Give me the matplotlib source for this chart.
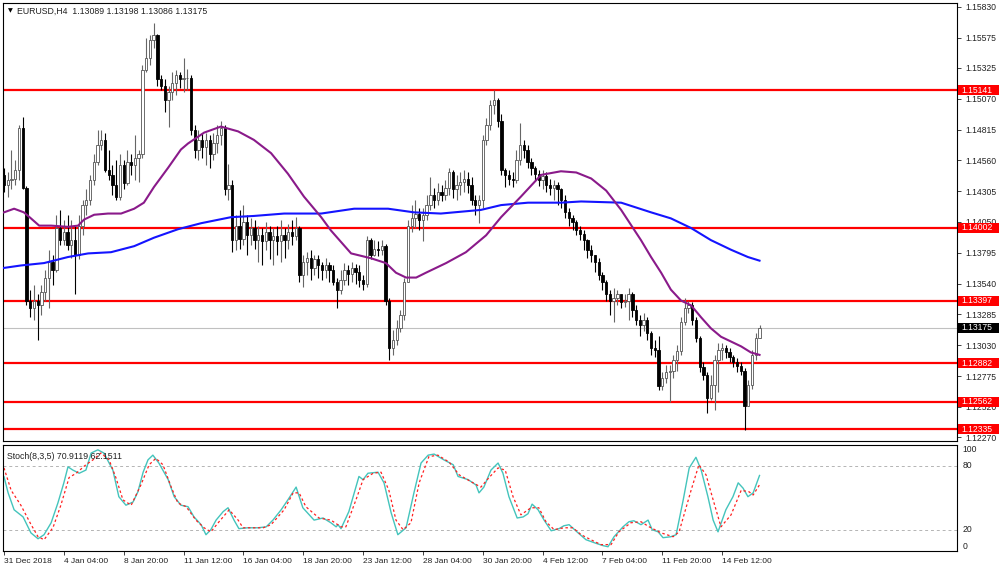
import matplotlib
matplotlib.use("Agg")
import matplotlib.pyplot as plt
from matplotlib.patches import Rectangle
from matplotlib.transforms import blended_transform_factory

plt.rcParams['font.family'] = ['Liberation Sans', 'DejaVu Sans']

# EURUSD H4 candles (bar 0 = 31 Dec 2018)
first_open = 1.1444
closes = [
    1.1436, 1.1440, 1.1441, 1.1448, 1.1483, 1.1433, 1.1340, 1.1334, 1.1340, 1.1336,
    1.1347, 1.1359, 1.1372, 1.1365, 1.1400, 1.1390, 1.1397, 1.1386, 1.1390, 1.1378,
    1.1402, 1.1419, 1.1423, 1.1440, 1.1455, 1.1469, 1.1473, 1.1448, 1.1444, 1.1436,
    1.1426, 1.1452, 1.1437, 1.1455, 1.1452, 1.1458, 1.1461, 1.1531, 1.1541, 1.1556,
    1.1560, 1.1523, 1.1518, 1.1506, 1.1513, 1.1520, 1.1527, 1.1523, 1.1524, 1.1524,
    1.1481, 1.1465, 1.1473, 1.1467, 1.1473, 1.1461, 1.1470, 1.1477, 1.1483, 1.1432,
    1.1436, 1.1390, 1.1402, 1.1391, 1.1405, 1.1394, 1.1400, 1.1390, 1.1394, 1.1389,
    1.1397, 1.1390, 1.1393, 1.1389, 1.1394, 1.1390, 1.1397, 1.1393, 1.1400, 1.1361,
    1.1372, 1.1375, 1.1367, 1.1374, 1.1369, 1.1365, 1.1369, 1.1365, 1.1355, 1.1349,
    1.1357, 1.1365, 1.1362, 1.1367, 1.1364, 1.1357, 1.1354, 1.1390, 1.1378, 1.1383,
    1.1382, 1.1385, 1.1340, 1.1301, 1.1307, 1.1317, 1.1328, 1.1355, 1.1402, 1.1408,
    1.1412, 1.1407, 1.1411, 1.1419, 1.1427, 1.1423, 1.1430, 1.1427, 1.1433, 1.1446,
    1.1432, 1.1436, 1.1438, 1.1441, 1.1436, 1.1423, 1.1419, 1.1423, 1.1473, 1.1485,
    1.1502, 1.1506, 1.1489, 1.1448, 1.1444, 1.1441, 1.1440, 1.1456, 1.1469, 1.1465,
    1.1455, 1.1450, 1.1445, 1.1440, 1.1443, 1.1436, 1.1433, 1.1436, 1.1432, 1.1423,
    1.1413, 1.1408, 1.1405, 1.1398, 1.1395, 1.1390, 1.1382, 1.1378, 1.1372, 1.1361,
    1.1355, 1.1345, 1.1340, 1.1342, 1.1345, 1.1339, 1.1340, 1.1345, 1.1332, 1.1324,
    1.1320, 1.1324, 1.1313, 1.1301, 1.1299, 1.1269, 1.1276, 1.1281, 1.1282, 1.1291,
    1.1298, 1.1322, 1.1334, 1.1336, 1.1324, 1.1309, 1.1285, 1.1278, 1.1259, 1.1270,
    1.1291, 1.1299, 1.1301, 1.1297, 1.1293, 1.1289, 1.1286, 1.1282, 1.1253, 1.1270,
    1.1295, 1.13089, 1.13175,
]
highs = [
    1.1450, 1.1446, 1.1465, 1.1456, 1.1485, 1.1492, 1.1435, 1.1349, 1.1353, 1.1345,
    1.1353, 1.1365, 1.1382, 1.1378, 1.1411, 1.1415, 1.1407, 1.1411, 1.1407, 1.1402,
    1.1411, 1.1423, 1.1432, 1.1444, 1.1461, 1.1481, 1.1481, 1.1479, 1.1465, 1.1452,
    1.1456, 1.1461, 1.1456, 1.1465, 1.1461, 1.1477, 1.1465, 1.1535, 1.1557, 1.1560,
    1.1570, 1.1561, 1.1527, 1.1523, 1.1518, 1.1529, 1.1531, 1.1529, 1.1541, 1.1532,
    1.1527, 1.1485, 1.1481, 1.1479, 1.1479, 1.1477, 1.1479, 1.1485, 1.1489, 1.1485,
    1.1453, 1.1440, 1.1411, 1.1415, 1.1419, 1.1411, 1.1408, 1.1407, 1.1402, 1.1400,
    1.1405, 1.1402, 1.1400, 1.1402, 1.1407, 1.1400, 1.1403, 1.1407, 1.1409, 1.1402,
    1.1378, 1.1380, 1.1382, 1.1378, 1.1378, 1.1372, 1.1375, 1.1372, 1.1369, 1.1359,
    1.1365, 1.1371, 1.1369, 1.1372, 1.1370, 1.1369, 1.1361, 1.1393, 1.1392, 1.1390,
    1.1389, 1.1390, 1.1387, 1.1342, 1.1316, 1.1324, 1.1332, 1.1359, 1.1407, 1.1419,
    1.1423, 1.1417, 1.1417, 1.1427, 1.1442, 1.1433, 1.1437, 1.1436, 1.1440, 1.1450,
    1.1448, 1.1444, 1.1446, 1.1448, 1.1446, 1.1442, 1.1427, 1.1427, 1.1477, 1.1491,
    1.1506, 1.1514, 1.1508, 1.1494, 1.1450, 1.1448, 1.1446, 1.1465, 1.1487, 1.1473,
    1.1469, 1.1458, 1.1451, 1.1448, 1.1448, 1.1446, 1.1441, 1.1440, 1.1438, 1.1433,
    1.1427, 1.1417, 1.1411, 1.1407, 1.1402, 1.1398, 1.1391, 1.1386, 1.1378, 1.1375,
    1.1364, 1.1357, 1.1349, 1.1350, 1.1349, 1.1344, 1.1345, 1.1350, 1.1347, 1.1336,
    1.1328, 1.1330, 1.1326, 1.1315, 1.1307, 1.1311, 1.1281, 1.1287, 1.1287, 1.1295,
    1.1303, 1.1326, 1.1342, 1.1340, 1.1339, 1.1326, 1.1311, 1.1289, 1.1281, 1.1278,
    1.1295, 1.1305, 1.1305, 1.1303, 1.1301, 1.1295, 1.1292, 1.1289, 1.1284, 1.1274,
    1.1299, 1.1313, 1.13198,
]
lows = [
    1.1430, 1.1426, 1.1432, 1.1436, 1.1440, 1.1432, 1.1336, 1.1326, 1.1324, 1.1307,
    1.1328, 1.1340, 1.1334, 1.1353, 1.1364, 1.1386, 1.1386, 1.1382, 1.1375, 1.1345,
    1.1374, 1.1394, 1.1411, 1.1419, 1.1436, 1.1452, 1.1465, 1.1446, 1.1440, 1.1427,
    1.1423, 1.1423, 1.1432, 1.1436, 1.1444, 1.1440, 1.1438, 1.1458, 1.1529, 1.1535,
    1.1549, 1.1518, 1.1514, 1.1496, 1.1484, 1.1506, 1.1510, 1.1516, 1.1513, 1.1514,
    1.1477, 1.1458, 1.1456, 1.1458, 1.1452, 1.1450, 1.1456, 1.1462, 1.1469, 1.1427,
    1.1423, 1.1380, 1.1382, 1.1383, 1.1386, 1.1378, 1.1386, 1.1383, 1.1372, 1.1369,
    1.1382, 1.1374, 1.1369, 1.1378, 1.1372, 1.1375, 1.1383, 1.1386, 1.1390, 1.1355,
    1.1351, 1.1361, 1.1357, 1.1361, 1.1359, 1.1357, 1.1359, 1.1355, 1.1353, 1.1334,
    1.1345, 1.1353, 1.1353, 1.1355, 1.1354, 1.1351, 1.1349, 1.1351, 1.1374, 1.1377,
    1.1377, 1.1378, 1.1336, 1.1291, 1.1295, 1.1303, 1.1314, 1.1324, 1.1355, 1.1397,
    1.1400, 1.1398, 1.1389, 1.1407, 1.1415, 1.1417, 1.1419, 1.1422, 1.1423, 1.1427,
    1.1425, 1.1423, 1.1427, 1.1430, 1.1429, 1.1419, 1.1411, 1.1404, 1.1417, 1.1469,
    1.1481, 1.1494, 1.1484, 1.1444, 1.1434, 1.1436, 1.1434, 1.1437, 1.1452, 1.1458,
    1.1450, 1.1444, 1.1440, 1.1435, 1.1432, 1.1430, 1.1427, 1.1423, 1.1419, 1.1417,
    1.1408, 1.1402, 1.1398, 1.1394, 1.1390, 1.1382, 1.1375, 1.1372, 1.1364, 1.1357,
    1.1349, 1.1340, 1.1328, 1.1322, 1.1336, 1.1334, 1.1335, 1.1324, 1.1326, 1.1320,
    1.1311, 1.1315, 1.1307, 1.1295, 1.1293, 1.1266, 1.1266, 1.1272, 1.1256, 1.1276,
    1.1282, 1.1295, 1.1320, 1.1330, 1.1320, 1.1306, 1.1281, 1.1274, 1.1247, 1.1258,
    1.1249, 1.1264, 1.1291, 1.1292, 1.1289, 1.1285, 1.1281, 1.1278, 1.1233, 1.1253,
    1.1267, 1.1291, 1.13086,
]

# moving averages (bar index, price)
ma_purple_x = [0, 2.7, 5.3, 7.2, 9.4, 12.6, 17.1, 19.8, 21.4, 24.1, 27.8, 31.3, 34.8, 37.4, 40.1,
               43.9, 47.3, 49.2, 53.5, 58, 62.6, 66.8, 71.4, 75.9, 80.2, 84.8, 87.4, 92.8, 98.1,
               102.1, 104.8, 107.5, 110.2, 112.8, 118.2, 123.5, 128.9, 132.9, 138.2, 143.6, 148.9,
               153, 157, 161, 165, 170.3, 173, 175.7, 178.3, 181, 183.7, 186.4, 189, 191.7, 197.1,
               199.7, 202]
ma_purple_y = [1.1413, 1.1416, 1.1413, 1.1408, 1.1402, 1.1402, 1.1401, 1.1402, 1.1407, 1.1411,
               1.1412, 1.1412, 1.1416, 1.1421, 1.1434, 1.1450, 1.1465, 1.1470, 1.1479, 1.1484,
               1.1480, 1.1473, 1.1462, 1.1445, 1.1426, 1.1409, 1.1398, 1.1379, 1.1375, 1.1371,
               1.1363, 1.1359, 1.1359, 1.1363, 1.1371, 1.1380, 1.1394, 1.1409, 1.1426, 1.1444,
               1.1447, 1.1446, 1.1441, 1.1431, 1.1415, 1.1390, 1.1376, 1.1363, 1.1349, 1.1340,
               1.1336, 1.1326, 1.1317, 1.1310, 1.1302, 1.1297, 1.1295]
ma_blue_x = [0, 4.5, 10.7, 17.1, 22.5, 28.6, 34.8, 40.1, 46.5, 52.7, 60.7, 66.8, 74.9, 84.8, 93.6,
             102.7, 109.6, 116.8, 127.5, 132.9, 140.1, 148.9, 154.3, 165, 173, 178.3, 183.7, 189,
             194.4, 198.9, 202]
ma_blue_y = [1.1367, 1.1369, 1.1371, 1.1376, 1.1379, 1.1380, 1.1385, 1.1392, 1.1399, 1.1404,
             1.1409, 1.1410, 1.1412, 1.1412, 1.1416, 1.1416, 1.1413, 1.1412, 1.1415, 1.1419,
             1.1421, 1.1421, 1.1422, 1.1421, 1.1413, 1.1408, 1.1400, 1.1390, 1.1382, 1.1376, 1.1373]

levels = [1.15141, 1.14002, 1.13397, 1.12882, 1.12562, 1.12335]
last_price = 1.13175
price_ticks = [1.15830, 1.15575, 1.15325, 1.15070, 1.14815, 1.14560, 1.14305, 1.14050,
               1.13795, 1.13540, 1.13285, 1.13030, 1.12775, 1.12520, 1.12270]

# stochastic (8,3,5)
stoch_main_x = [0, 1.1, 2.7, 5.1, 7.2, 9.1, 10.7, 12.6, 14.4, 16, 17.1, 18.4, 20.1, 21.9, 23.3, 25.1,
                26.7, 29.1, 30.7, 32.6, 34.5, 35.8, 37.2, 38.5, 39.8, 41.4, 43.9, 45.5, 47.3, 49.2,
                50.8, 52.7, 54, 55.3, 56.7, 58.6, 59.9, 61.5, 62.8, 65.2, 67.9, 70.1, 71.9, 74.1,
                75.9, 78.1, 79.9, 82.9, 85.3, 87.4, 88.8, 89.3, 90.1, 92.2, 94.9, 96, 97.3, 100,
                101.6, 103.5, 105.3, 107.5, 109.6, 111.5, 113.4, 115, 117.6, 120.1, 121.4, 124.1,
                126.2, 127, 128.3, 130.2, 132.1, 133.4, 135, 137.2, 138.8, 140.1, 141.2, 142.8,
                144.4, 146.3, 148.4, 149.7, 151.1, 153.5, 155.6, 157.8, 160.2, 161.5, 163.1, 165.5,
                167.1, 168.4, 170.3, 172.2, 173.3, 174.9, 176.2, 178.3, 179.7, 181.6, 183.2, 185,
                186.4, 188.2, 189.6, 190.9, 193, 194.9, 196.3, 197.6, 198.9, 200.3, 202]
stoch_main_y = [69.6, 54.6, 38.7, 32, 17, 11.5, 15.3, 26.5, 45, 64, 79, 76, 73, 76, 92, 95,
                92, 76, 51, 43, 46, 55.6, 74, 85.6, 90, 82.6, 67, 51, 43, 41.6,
                32, 24.7, 15.3, 20, 29, 37, 40.6, 29, 21, 21.8, 21.8, 22.7, 29, 38.7,
                48, 60, 40.6, 29, 31, 26.5, 22.7, 24.7, 21, 37, 70, 67, 73, 74,
                64, 36, 15.3, 21.8, 54.6, 82.6, 90, 91, 85.6, 81, 70, 67,
                62, 54.6, 60, 76, 82.6, 73, 51, 31, 32, 35, 44, 38.7,
                29, 19, 21, 23.7, 24.7, 17, 10.6, 7.8, 5, 4, 13.4, 22.7,
                27.5, 28.4, 24.7, 29, 20, 18, 12.5, 13.4, 15.3, 48, 78, 88,
                76, 51, 29, 18, 38.7, 51, 64, 59, 51, 54.6, 70.9119]
stoch_signal_x = [0, 1.9, 4.5, 7.2, 9.1, 10.7, 13.1, 15.2, 17.4, 19.3, 21.9, 23.8, 25.9, 28.1,
                  29.9, 31.8, 34, 36.6, 38.8, 40.6, 42.5, 44.7, 46.5, 48.7, 51.3, 53.5, 55.3, 57.5,
                  60.2, 62.6, 63.9, 69.3, 71.4, 74.9, 77.3, 78.9, 80.7, 84.2, 87.4, 90.1, 91.4,
                  94.1, 96, 98.7, 100.8, 102.9, 104.8, 106.7, 108.8, 111, 113.6, 116, 119, 121.7,
                  124.9, 127.5, 129.7, 132.1, 134, 136.1, 138.2, 140.9, 143, 144.9, 147.1, 149.7,
                  152.1, 154.3, 156.9, 159.6, 162.3, 164.4, 167.6, 170.3, 172.5, 175.7, 178.9,
                  180.5, 183.7, 185.8, 187.7, 189.6, 191.7, 194.4, 197.1, 199.2, 200.3, 202]
stoch_signal_y = [78, 57, 43, 25, 13.4, 10.6, 22, 43, 69, 73, 81, 85.6, 92, 85.6,
                  69, 48, 43, 62, 81, 87, 81, 60, 45, 41.6, 29, 21.8, 18, 27.5,
                  38.7, 29, 21.8, 21.8, 24.7, 38.7, 54.6, 54.6, 41.6, 31, 29, 22.7, 22.7,
                  48, 67, 73, 74, 57, 29, 20, 26.5, 64, 88.6, 90, 83.5, 71.5,
                  65, 60, 69, 78, 76, 51, 34, 40.6, 40.6, 27.5, 20, 21.8,
                  21.8, 15.3, 10.6, 6, 6, 18, 26.5, 27.5, 22.7, 17, 13.4,
                  18, 57, 81, 71.5, 48, 22.7, 34, 57, 55.6, 52.6, 62.1511]

date_ticks = [0, 16, 32, 48, 64, 80, 96, 112, 128, 144, 160, 176, 192]
date_labels = ['31 Dec 2018', '4 Jan 04:00', '8 Jan 20:00', '11 Jan 12:00', '16 Jan 04:00',
               '18 Jan 20:00', '23 Jan 12:00', '28 Jan 04:00', '30 Jan 20:00', '4 Feb 12:00',
               '7 Feb 04:00', '11 Feb 20:00', '14 Feb 12:00']

W, H = 1000, 571
fig = plt.figure(figsize=(W / 100, H / 100), dpi=100)
fig.patch.set_facecolor('white')


def box(x0, y0, x1, y1):
    return [x0 / W, 1 - y1 / H, (x1 - x0) / W, (y1 - y0) / H]


ax = fig.add_axes(box(3, 3, 957, 441))
ax2 = fig.add_axes(box(3, 444.5, 957, 551))
xlim = (-0.27, 254.8)
ylim = (1.12237, 1.15863)

# candles
n = len(closes)
bars = list(range(n))
opens = [first_open] + closes[:-1]
bottoms, heights, faces, edges, wick_cols = [], [], [], [], []
for o, c in zip(opens, closes):
    bottoms.append(min(o, c))
    heights.append(max(abs(c - o), 0.00003))
    if c >= o:
        faces.append('white'); edges.append('#555555'); wick_cols.append('#666666')
    else:
        faces.append('black'); edges.append('black'); wick_cols.append('black')

for lv in levels:
    ax.axhline(lv, color='#ff0000', lw=1.6, zorder=1)
ax.axhline(last_price, color='#c0c0c0', lw=0.8, zorder=1)

ax.vlines(bars, lows, highs, colors=wick_cols, lw=0.8, zorder=3)
ax.bar(bars, heights, bottom=bottoms, width=0.62, color=faces, edgecolor=edges,
       linewidth=0.6, zorder=4)

ax.plot(ma_blue_x, ma_blue_y, color='#1414ff', lw=1.5, zorder=5)
ax.plot(ma_purple_x, ma_purple_y, color='#8a1a8a', lw=1.5, zorder=5)

ax.set_xlim(*xlim)
ax.set_ylim(*ylim)
ax.set_xticks([])
ax.yaxis.tick_right()
ax.set_yticks(price_ticks)
ax.set_yticklabels([f'{v:.5f}' for v in price_ticks])
ax.tick_params(axis='y', length=3, width=0.6, pad=3, labelsize=6.2, colors='#222222')
for s in ax.spines.values():
    s.set_color('black'); s.set_linewidth(0.8)

# price boxes on the right scale (about 41 px wide, 10 px tall)
tr = blended_transform_factory(ax.transAxes, ax.transData)
px_x = 1 / 954
px_y = (ylim[1] - ylim[0]) / 438
for lv, fc in [(v, '#ff0000') for v in levels] + [(last_price, 'black')]:
    ax.add_patch(Rectangle((1 + 1 * px_x, lv - 5 * px_y), 41 * px_x, 10 * px_y, transform=tr,
                           facecolor=fc, edgecolor='none', clip_on=False, zorder=9))
    ax.text(1 + 4 * px_x, lv, f'{lv:.5f}', transform=tr, ha='left', va='center',
            fontsize=6.2, color='white', clip_on=False, zorder=10)

ax.text(0.005, 0.982, '\u25bc', transform=ax.transAxes, fontsize=4.5, va='center',
        family=['DejaVu Sans'])
ax.text(0.015, 0.982, 'EURUSD,H4  1.13089 1.13198 1.13086 1.13175', transform=ax.transAxes,
        fontsize=6.3, va='center', color='#222222')

# stochastic panel
ax2.axhline(80, color='#b4b4b4', lw=0.7, ls=(0, (3, 3)))
ax2.axhline(20, color='#b4b4b4', lw=0.7, ls=(0, (3, 3)))
ax2.plot(stoch_main_x, stoch_main_y, color='#44c4bc', lw=1.0)
ax2.plot(stoch_signal_x, stoch_signal_y, color='#ff2020', lw=0.9, ls=(0, (2, 2)))
ax2.set_xlim(*xlim)
ax2.set_ylim(0, 100)
ax2.set_yticks([])
ax2.set_xticks(date_ticks)
ax2.set_xticklabels(date_labels, ha='left')
ax2.tick_params(axis='x', length=3, width=0.6, pad=2, labelsize=6, colors='#222222')
for s in ax2.spines.values():
    s.set_color('black'); s.set_linewidth(0.8)
ax2.text(0.004, 0.93, 'Stoch(8,3,5) 70.9119 62.1511', transform=ax2.transAxes,
         fontsize=6.3, va='top', color='#222222')
tr2 = blended_transform_factory(ax2.transAxes, ax2.transData)
for val, va in [(100, 'top'), (80, 'center'), (20, 'center'), (0, 'bottom')]:
    ax2.text(1.006, val, str(val), transform=tr2, ha='left', va=va, fontsize=6.2,
             color='#222222', clip_on=False)

fig.savefig('out.png', dpi=100, facecolor='white')
